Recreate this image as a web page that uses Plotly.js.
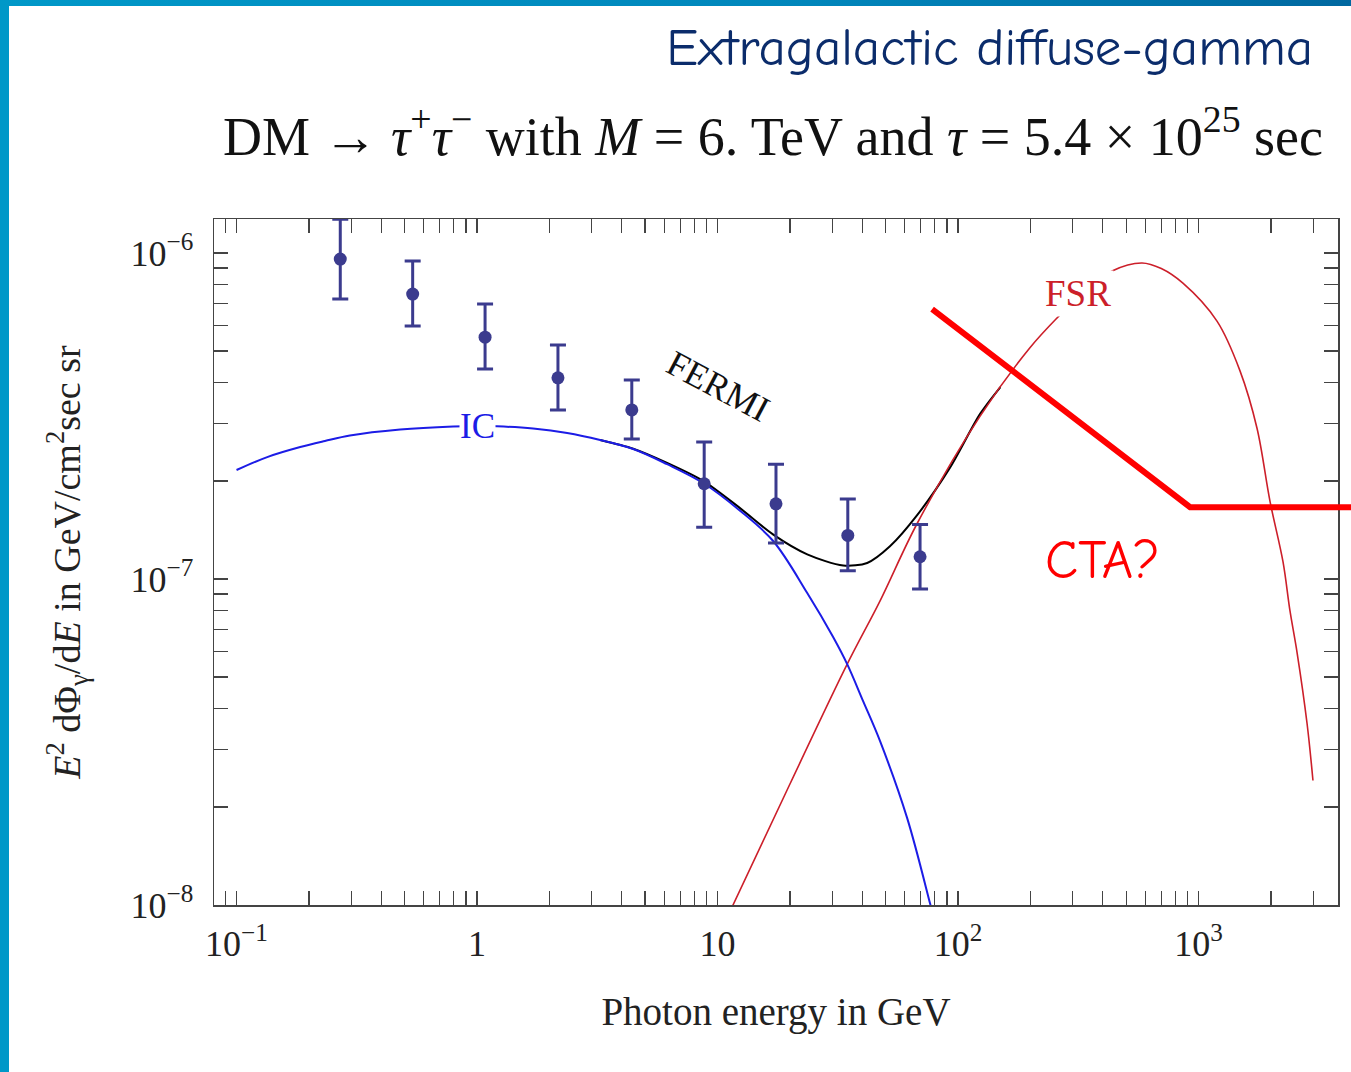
<!DOCTYPE html>
<html>
<head>
<meta charset="utf-8">
<script src="https://cdn.plot.ly/plotly-3.0.1.min.js"></script>
<style>
  html, body { margin: 0; padding: 0; background: #ffffff; }
  #wrap { position: relative; width: 1351px; height: 1072px; overflow: hidden; }
  #chart { position: absolute; left: 0; top: 0; width: 1351px; height: 1072px; }
  #bl { position: absolute; left: 0; top: 0; width: 9px; height: 1072px; background: #0098c8; }
  #bt { position: absolute; left: 0; top: 0; width: 1351px; height: 6px; background: linear-gradient(to right, #0098c8, #0086bb 60%, #0068a0); }
</style>
</head>
<body>
<div id="wrap">
  <div id="chart"></div>
  <div id="bl"></div>
  <div id="bt"></div>
</div>
<script>
// ---- data ----
const fermi_x  = [0.27, 0.54, 1.08, 2.17, 4.4, 8.8, 17.5, 34.8, 69.5];
const fermi_y  = [9.58e-7, 7.48e-7, 5.52e-7, 4.14e-7, 3.30e-7, 1.96e-7, 1.70e-7, 1.36e-7, 1.17e-7];
const fermi_hi = [1.27e-6, 9.45e-7, 6.98e-7, 5.22e-7, 4.08e-7, 2.63e-7, 2.25e-7, 1.76e-7, 1.47e-7];
const fermi_lo = [7.23e-7, 5.97e-7, 4.41e-7, 3.30e-7, 2.69e-7, 1.44e-7, 1.29e-7, 1.06e-7, 9.32e-8];

const ic_x = [0.1, 0.135, 0.184, 0.233, 0.296, 0.479, 0.796, 1.0, 1.21, 1.71, 2.37, 3.25, 4.46, 6.17, 8.71, 12.4, 17.0, 23.6, 30.2, 34.6, 40.3, 47.4, 61.4, 76.5, 79];
const ic_y = [2.16e-7, 2.37e-7, 2.54e-7, 2.65e-7, 2.755e-7, 2.874e-7, 2.936e-7, 2.946e-7, 2.94e-7, 2.895e-7, 2.805e-7, 2.669e-7, 2.505e-7, 2.25e-7, 1.97e-7, 1.62e-7, 1.31e-7, 9.06e-8, 6.65e-8, 5.48e-8, 4.22e-8, 3.18e-8, 1.85e-8, 1.01e-8, 9.2e-9];

const fsr_x = [11.3, 20.0, 34.6, 47.4, 67.6, 123.5, 199, 258, 337, 437, 582, 700, 861, 1193, 1487, 1750, 1982, 2244, 2400, 2566, 2825, 2990];
const fsr_y = [9.6e-9, 2.35e-8, 5.48e-8, 8.57e-8, 1.48e-7, 3.16e-7, 5.12e-7, 6.32e-7, 7.64e-7, 8.81e-7, 9.32e-7, 8.96e-7, 8.08e-7, 6.18e-7, 4.35e-7, 2.90e-7, 1.73e-7, 1.13e-7, 7.98e-8, 5.97e-8, 3.61e-8, 2.41e-8];

const tot_x = [3.25, 4.46, 6.17, 8.71, 12.4, 17.0, 23.6, 33.3, 41.9, 52.1, 67.6, 92.7, 123.5, 150];
const tot_y = [2.67e-7, 2.51e-7, 2.27e-7, 2.0e-7, 1.65e-7, 1.37e-7, 1.19e-7, 1.10e-7, 1.12e-7, 1.26e-7, 1.57e-7, 2.2e-7, 3.21e-7, 3.88e-7];

const cta_x = [78, 922, 4300];
const cta_y = [6.73e-7, 1.66e-7, 1.66e-7];

const x_major_vals = [0.1, 1, 10, 100, 1000];
const x_major_text = ['10<sup>\u22121</sup>', '1', '10', '10<sup>2</sup>', '10<sup>3</sup>'];
const x_minor_vals = [0.09, 0.2, 0.3, 0.4, 0.5, 0.6, 0.7, 0.8, 0.9, 2, 3, 4, 5, 6, 7, 8, 9,
  20, 30, 40, 50, 60, 70, 80, 90, 200, 300, 400, 500, 600, 700, 800, 900, 2000, 3000];
const y_major_vals = [1e-8, 1e-7, 1e-6];
const y_major_text = ['10<sup>\u22128</sup>', '10<sup>\u22127</sup>', '10<sup>\u22126</sup>'];
const y_minor_vals = [2e-8, 3e-8, 4e-8, 5e-8, 6e-8, 7e-8, 8e-8, 9e-8, 2e-7, 3e-7, 4e-7, 5e-7, 6e-7, 7e-7, 8e-7, 9e-7];

const labels = { ic: 'IC', fermi: 'FERMI', fsr: 'FSR', cta: 'CTA?' };

// ---- chart ----
const serif = 'Liberation Serif, Times New Roman, serif';
const comic = 'Comic Sans MS, Comic Neue, Lato, sans-serif';

const traces = [
  { x: tot_x, y: tot_y, mode: 'lines', line: { color: '#000000', width: 2, shape: 'spline', smoothing: 0.8 }, hoverinfo: 'skip' },
  { x: fsr_x, y: fsr_y, mode: 'lines', line: { color: '#cc1f2a', width: 1.6, shape: 'spline', smoothing: 1 }, hoverinfo: 'skip' },
  { x: ic_x, y: ic_y, mode: 'lines', line: { color: '#1c1ce6', width: 2, shape: 'spline', smoothing: 1 }, hoverinfo: 'skip' },
  { x: cta_x, y: cta_y, mode: 'lines', line: { color: '#ff0000', width: 6 }, hoverinfo: 'skip' },
  {
    x: fermi_x, y: fermi_y, mode: 'markers', cliponaxis: false,
    marker: { color: '#3b3b8e', size: 13 },
    error_y: {
      type: 'data', symmetric: false,
      array: fermi_hi.map((h, i) => h - fermi_y[i]),
      arrayminus: fermi_lo.map((l, i) => fermi_y[i] - l),
      color: '#3b3b8e', thickness: 3, width: 8
    },
    hoverinfo: 'skip'
  }
];

const axisCommon = {
  type: 'log', showgrid: false, zeroline: false,
  showline: true, linecolor: '#444444', linewidth: 1.5,
  mirror: 'allticks', ticks: 'inside', ticklen: 14, tickwidth: 1.3, tickcolor: '#444444',
  tickmode: 'array', tickfont: { family: serif, size: 36, color: '#222222' }
};
const minorCommon = { ticks: 'inside', ticklen: 14, tickwidth: 1.3, tickcolor: '#444444', showgrid: false, tickmode: 'array' };

const layout = {
  width: 1351, height: 1072,
  margin: { l: 214, r: 13, t: 219, b: 167 },
  paper_bgcolor: '#ffffff', plot_bgcolor: '#ffffff',
  showlegend: false,
  title: {
    text: 'Extragalactic diffuse-gamma',
    font: { family: comic, size: 53, color: '#0b2c6b' },
    xref: 'container', yref: 'container', x: 0.972, xanchor: 'right', y: 0.957, yanchor: 'middle'
  },
  xaxis: Object.assign({}, axisCommon, {
    range: [Math.log10(0.0806), Math.log10(3800)],
    tickvals: x_major_vals, ticktext: x_major_text,
    minor: Object.assign({}, minorCommon, { tickvals: x_minor_vals }),
    ticklabelstandoff: 6,
    title: { text: 'Photon energy in GeV', font: { family: serif, size: 39, color: '#222222' }, standoff: 35 }
  }),
  yaxis: Object.assign({}, axisCommon, {
    range: [-8, -5.8957],
    tickvals: y_major_vals, ticktext: y_major_text,
    minor: Object.assign({}, minorCommon, { tickvals: y_minor_vals }),
    ticklabelstandoff: 12,
    title: { text: '<i>E</i><sup>2</sup> d\u03a6<sub>\u03b3</sub>/d<i>E</i> in GeV/cm<sup>2</sup>sec sr', font: { family: serif, size: 38, color: '#222222' }, standoff: 38 }
  }),
  annotations: [
    { xref: 'paper', yref: 'paper', x: 0.9884, y: 1.1265, xanchor: 'right', yanchor: 'middle', showarrow: false,
      text: 'DM \u2192 <i>\u03c4</i><sup>+</sup><i>\u03c4</i><sup>\u2212</sup> with <i>M</i> = 6. TeV and <i>\u03c4</i> = 5.4 \u00d7 10<sup>25</sup> sec',
      font: { family: serif, size: 54, color: '#111111' } },
    { x: Math.log10(1.0), y: Math.log10(2.946e-7), text: labels.ic, showarrow: false, bgcolor: '#ffffff', borderpad: 0,
      font: { family: serif, size: 35, color: '#1c1ce6' } },
    { x: Math.log10(10), y: Math.log10(3.9e-7), text: labels.fermi, showarrow: false, textangle: 28,
      font: { family: serif, size: 36, color: '#111111' } },
    { x: Math.log10(316), y: Math.log10(7.5e-7), text: labels.fsr, showarrow: false, bgcolor: '#ffffff', borderpad: 2,
      font: { family: serif, size: 37, color: '#cc1f2a' } },
    { x: Math.log10(400), y: Math.log10(1.14e-7), text: labels.cta, showarrow: false,
      font: { family: comic, size: 54, color: '#ff0000' } }
  ],
  shapes: [
    { type: 'line', xref: 'paper', yref: 'y', x0: 1, x1: 1.02, y0: cta_y[2], y1: cta_y[2],
      line: { color: '#ff0000', width: 6 }, layer: 'above' }
  ]
};

Plotly.newPlot('chart', traces, layout, { staticPlot: true, displayModeBar: false });
</script>
</body>
</html>
